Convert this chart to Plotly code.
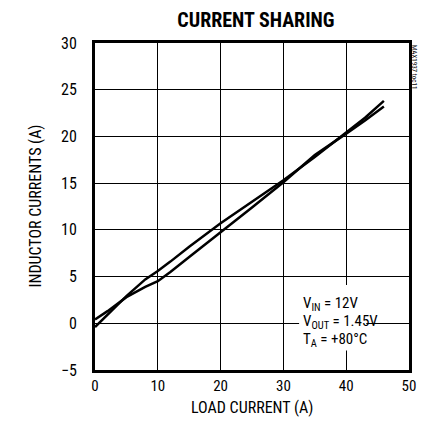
import plotly.graph_objects as go

load_a = [0, 2, 5, 8, 10, 12, 15, 20, 25, 30, 35, 40, 43, 46]
ind_a = [-0.4, 0.9, 2.9, 4.7, 5.6, 6.6, 8.2, 10.7, 13.0, 15.3, 17.8, 20.4, 22.0, 23.8]
load_b = [0, 2, 5, 8, 10, 12, 15, 20, 25, 30, 35, 40, 43, 46]
ind_b = [0.4, 1.3, 2.8, 3.9, 4.5, 5.5, 7.1, 9.7, 12.4, 15.1, 18.0, 20.3, 21.7, 23.2]

x_ticks = [0, 10, 20, 30, 40, 50]
y_ticks = [-5, 0, 5, 10, 15, 20, 25, 30]

FONT = "Liberation Sans Narrow, Arial Narrow, Roboto Condensed, Roboto, sans-serif"

fig = go.Figure()
for xs, ys in [(load_a, ind_a), (load_b, ind_b)]:
    fig.add_trace(go.Scatter(x=xs, y=ys, mode="lines",
                             line=dict(color="black", width=2.5),
                             showlegend=False, hoverinfo="skip"))

fig.add_shape(type="rect", x0=32.5, x1=43.2, y0=-2.9, y1=4.1,
              fillcolor="white", line=dict(width=0), layer="between")

for i, txt in enumerate(["V<sub>IN</sub> = 12V",
                         "V<sub>OUT</sub> = 1.45V",
                         "T<sub>A</sub> = +80°C"]):
    fig.add_annotation(x=32.8, y=2.1 - i * 1.95, text=txt, showarrow=False,
                       xanchor="left", yanchor="middle",
                       font=dict(family=FONT, size=15, color="black"))

fig.add_annotation(text="MAX1937 toc11", xref="paper", yref="paper",
                   x=1.0, y=1.0, xshift=5, xanchor="center", yanchor="top",
                   textangle=90, showarrow=False,
                   font=dict(family=FONT, size=7, color="black"))

# axis titles as annotations for precise placement
fig.add_annotation(text="LOAD CURRENT (A)", xref="paper", yref="paper",
                   x=0.5, y=0, yshift=-37, xanchor="center", yanchor="middle",
                   showarrow=False, font=dict(family=FONT, size=16, color="black"))
fig.add_annotation(text="INDUCTOR CURRENTS (A)", xref="paper", yref="paper",
                   x=0, y=0.5, xshift=-60, xanchor="center", yanchor="middle",
                   textangle=-90, showarrow=False,
                   font=dict(family=FONT, size=16, color="black"))

fig.update_layout(
    width=416, height=413,
    margin=dict(l=87, r=8, t=35, b=51),
    paper_bgcolor="white", plot_bgcolor="white",
    title=dict(text="<b>CURRENT SHARING</b>", x=0.596, xanchor="center",
               y=0.988, yanchor="top",
               font=dict(family=FONT, size=20, color="black")),
    font=dict(family=FONT, size=16, color="black"),
)
fig.update_xaxes(range=[0, 50], tickvals=x_ticks, showgrid=True,
                 gridcolor="black", gridwidth=1, showline=True, linecolor="black",
                 linewidth=3, mirror=True, ticks="", zeroline=False,
                 ticklabeloverflow="allow",
                 tickfont=dict(family=FONT, size=15))
fig.update_yaxes(range=[-5, 30], tickvals=y_ticks, showgrid=True,
                 gridcolor="black", gridwidth=1, showline=True, linecolor="black",
                 linewidth=3, mirror=True, ticks="", zeroline=False,
                 ticklabelstandoff=12, ticklabeloverflow="allow",
                 tickfont=dict(family=FONT, size=16))

fig.write_html("out.html")
